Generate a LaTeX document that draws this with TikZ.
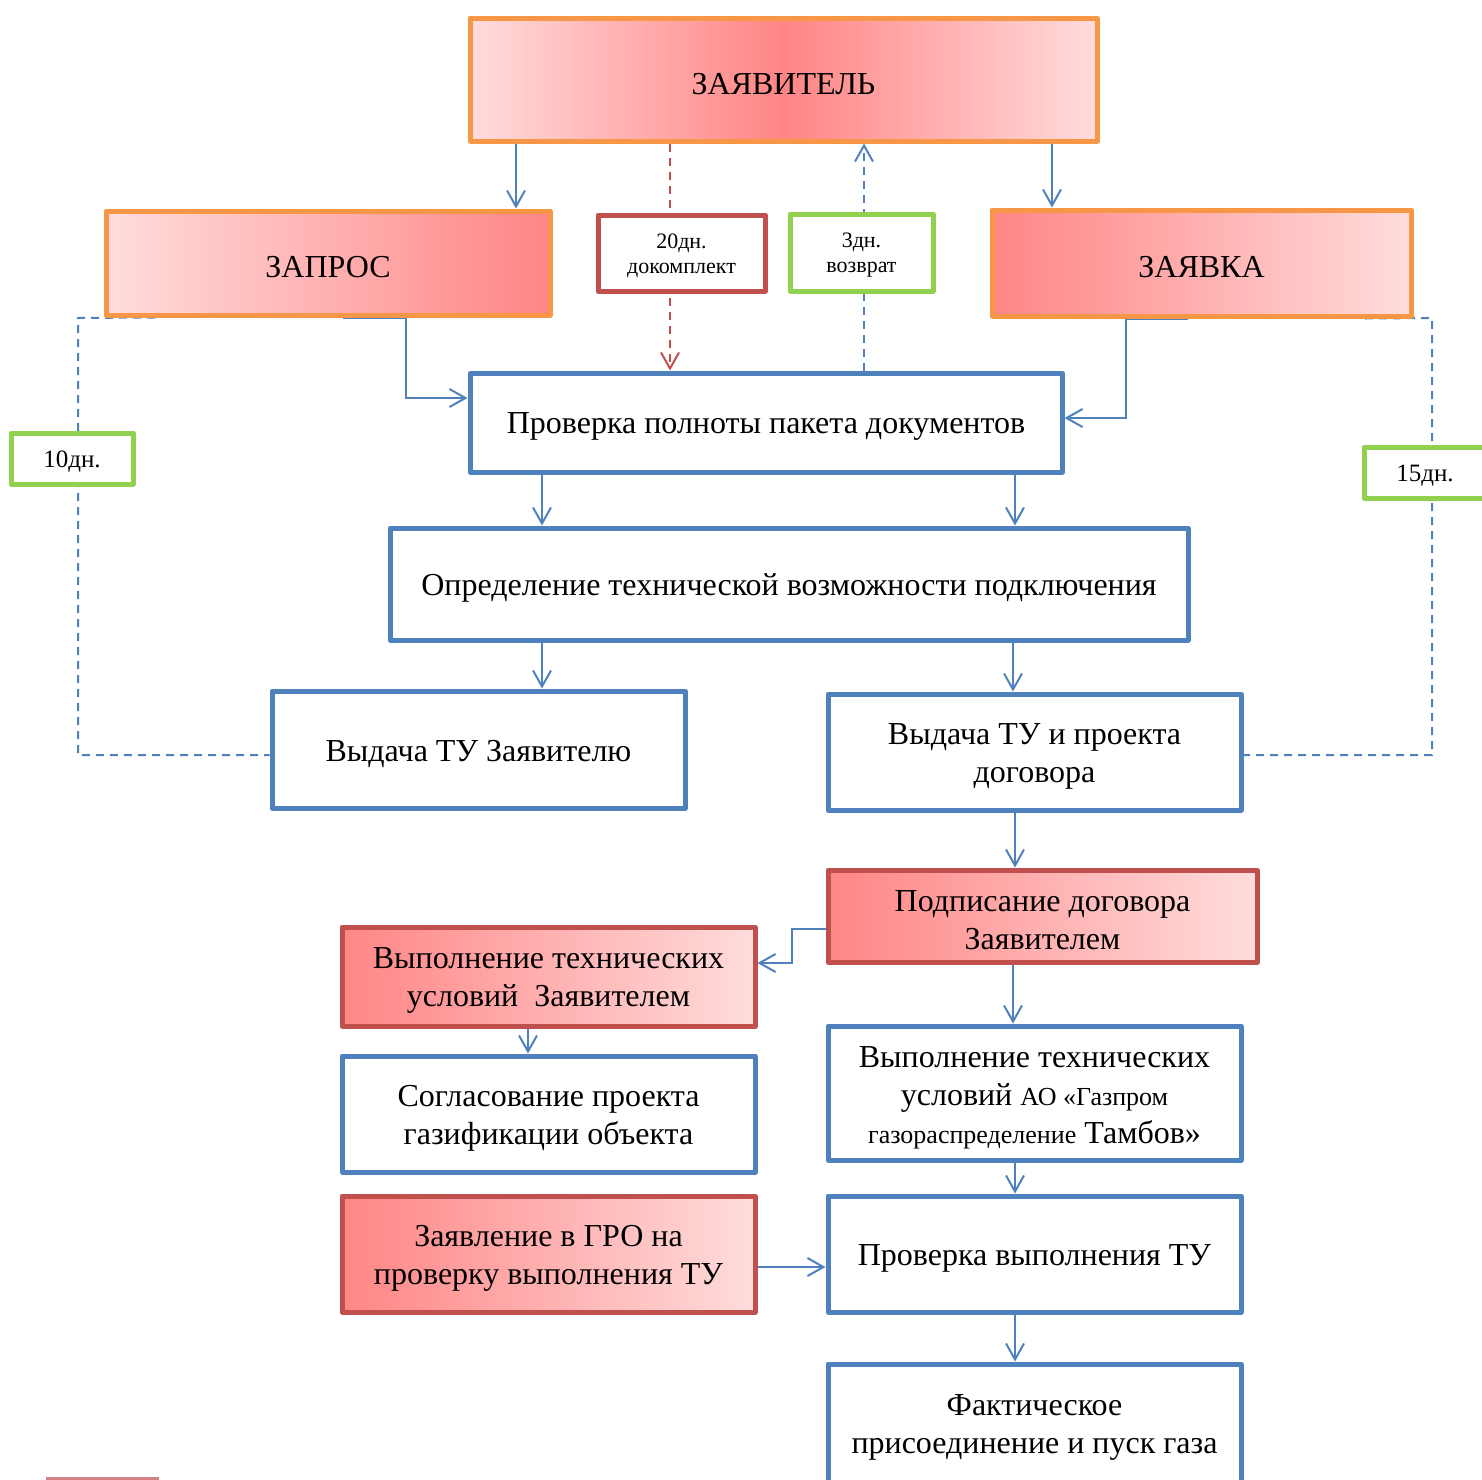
\documentclass[tikz,border=0pt]{standalone}
\usepackage{fontspec}
\setmainfont{Liberation Serif}
\usetikzlibrary{arrows.meta,calc}
\pgfdeclarelayer{bg}
\pgfsetlayers{bg,main}
\definecolor{orng}{HTML}{F79646}
\definecolor{bluel}{HTML}{4F81BD}
\definecolor{redl}{HTML}{C0504D}
\definecolor{grn}{HTML}{92D050}
\definecolor{pinkd}{HTML}{FF8585}
\definecolor{pinkl}{HTML}{FFDCDC}
\newcommand\mysmallf{\fontsize{13}{19}\selectfont}
\newcommand\upl{\rule{0pt}{0.93em}}
\begin{document}
\begin{tikzpicture}[x=0.5pt,y=-0.5pt,
  box/.style={rectangle, line width=2.5pt, line join=round, inner sep=2pt, align=center, font=\fontsize{16}{19}\selectfont, execute at begin node={\upl}},
  bluebox/.style={box, draw=bluel, fill=white},
  orbox/.style={box, draw=orng},
  redbox/.style={box, draw=redl},
  tagred/.style={box, draw=redl, fill=white, font=\fontsize{11}{12.5}\selectfont},
  taggrn/.style={box, draw=grn, fill=white, font=\fontsize{11}{12.5}\selectfont},
  conn/.style={draw=bluel, line width=1pt, -{Straight Barb[length=8pt,width=9pt]}},
  dline/.style={draw=bluel, line width=1pt, dash pattern=on 4pt off 3pt},
  rdash/.style={draw=redl, line width=1pt, dash pattern=on 4pt off 3pt, -{Straight Barb[length=8pt,width=9pt]}},
  bdash/.style={draw=bluel, line width=1pt, dash pattern=on 4pt off 3pt, -{Straight Barb[length=8pt,width=9pt]}}
]
\useasboundingbox (0,0) rectangle (1482,1479);
\clip (0,0) rectangle (1482,1479);

% nodes
\node[orbox, left color=pinkl, right color=pinkl, middle color=pinkd, minimum width=313.5pt, minimum height=61.5pt] (zay) at (783.5,79.5) {ЗАЯВИТЕЛЬ};
\node[orbox, left color=pinkl, right color=pinkd, minimum width=222pt, minimum height=52pt] (zapros) at (328,263) {ЗАПРОС};
\node[orbox, left color=pinkd, right color=pinkl, minimum width=209.5pt, minimum height=53pt] (zayavka) at (1201.5,263) {ЗАЯВКА};
\node[tagred, minimum width=83.5pt, minimum height=38pt] (d20) at (681.5,253) {\upl 20дн.\\докомплект};
\node[taggrn, minimum width=71.5pt, minimum height=38.5pt] (d3) at (861.5,252.5) {\upl 3дн.\\возврат};
\node[bluebox, minimum width=296pt, minimum height=49.5pt] (prov) at (766,422.5) {Проверка полноты пакета документов};
\node[bluebox, minimum width=399pt, minimum height=56pt] (opr) at (789,584) {Определение технической возможности подключения};
\node[bluebox, minimum width=206.5pt, minimum height=58.5pt] (vyd1) at (478.5,749.5) {Выдача ТУ Заявителю};
\node[bluebox, minimum width=206.5pt, minimum height=58pt] (vyd2) at (1034.5,752) {\upl Выдача ТУ и проекта\\договора};
\node[redbox, left color=pinkd, right color=pinkl, minimum width=214.5pt, minimum height=46pt] (podp) at (1042.5,916) {\upl Подписание договора\\Заявителем};
\node[redbox, left color=pinkd, right color=pinkl, minimum width=206.5pt, minimum height=49.5pt] (vypz) at (548.5,976.5) {\upl Выполнение технических\\условий\ \ Заявителем};
\node[bluebox, minimum width=206.5pt, minimum height=58pt] (sogl) at (548.5,1114) {\upl Согласование проекта\\газификации объекта};
\node[bluebox, minimum width=206.5pt, minimum height=67pt] (vypao) at (1034.5,1093) {\upl Выполнение технических\\условий {\mysmallf АО «Газпром}\\{\mysmallf газораспределение} Тамбов»};
\node[redbox, left color=pinkd, right color=pinkl, minimum width=206.5pt, minimum height=58pt] (zayavl) at (548.5,1254) {\upl Заявление в ГРО на\\проверку выполнения ТУ};
\node[bluebox, minimum width=206.5pt, minimum height=58pt] (provv) at (1034.5,1254) {Проверка выполнения ТУ};
\node[bluebox, minimum width=206.5pt, minimum height=59pt] (fakt) at (1034.5,1423) {\upl Фактическое\\присоединение и пуск газа};
\node[taggrn, font=\fontsize{12.5}{14}\selectfont, minimum width=61pt, minimum height=25.5pt] (d10) at (72,458.5) {10дн.};
\node[taggrn, font=\fontsize{12.5}{14}\selectfont, minimum width=61pt, minimum height=25.5pt] (d15) at (1425,472.5) {15дн.};

% fragment of a box cut by the lower edge
\draw[line width=1.5pt, draw=redl!70] (47,1478) rectangle (157,1540);

\begin{pgfonlayer}{bg}
\draw[conn] (zay.south -| 516,0) -- (zapros.north -| 516,0);
\draw[conn] (zay.south -| 1052,0) -- (zayavka.north -| 1052,0);
\draw[rdash] (zay.south -| 670,0) -- (prov.north -| 670,0);
\draw[bdash] (prov.north -| 864,0) -- (zay.south -| 864,0);
\draw[conn] (zapros.south -| 343,0) -- (zapros.south -| 406,0) |- (prov.west |- 0,398);
\draw[conn] (zayavka.south -| 1188,0) -- (zayavka.south -| 1126,0) |- (prov.east |- 0,418);
\draw[conn] (prov.south -| 542,0) -- (opr.north -| 542,0);
\draw[conn] (prov.south -| 1015,0) -- (opr.north -| 1015,0);
\draw[conn] (opr.south -| 542,0) -- (vyd1.north -| 542,0);
\draw[conn] (opr.south -| 1013,0) -- (vyd2.north -| 1013,0);
\draw[conn] (vyd2.south -| 1015,0) -- (podp.north -| 1015,0);
\draw[conn] (podp.west |- 0,929) -- (792,929) |- (vypz.east |- 0,963);
\draw[conn] (podp.south -| 1013,0) -- (vypao.north -| 1013,0);
\draw[conn] (vypz.south -| 528,0) -- (sogl.north -| 528,0);
\draw[conn] (vypao.south -| 1015,0) -- (provv.north -| 1015,0);
\draw[conn] (zayavl.east |- 0,1267) -- (provv.west |- 0,1267);
\draw[conn] (provv.south -| 1015,0) -- (fakt.north -| 1015,0);
\draw[dline] (zapros.south -| 155,0) -- (78,318) -- (78,755) -- (vyd1.west |- 0,755);
\draw[dline] (zayavka.south -| 1365,0) -- (1432,318) -- (1432,755) -- (vyd2.east |- 0,755);
\end{pgfonlayer}
\end{tikzpicture}
\end{document}
